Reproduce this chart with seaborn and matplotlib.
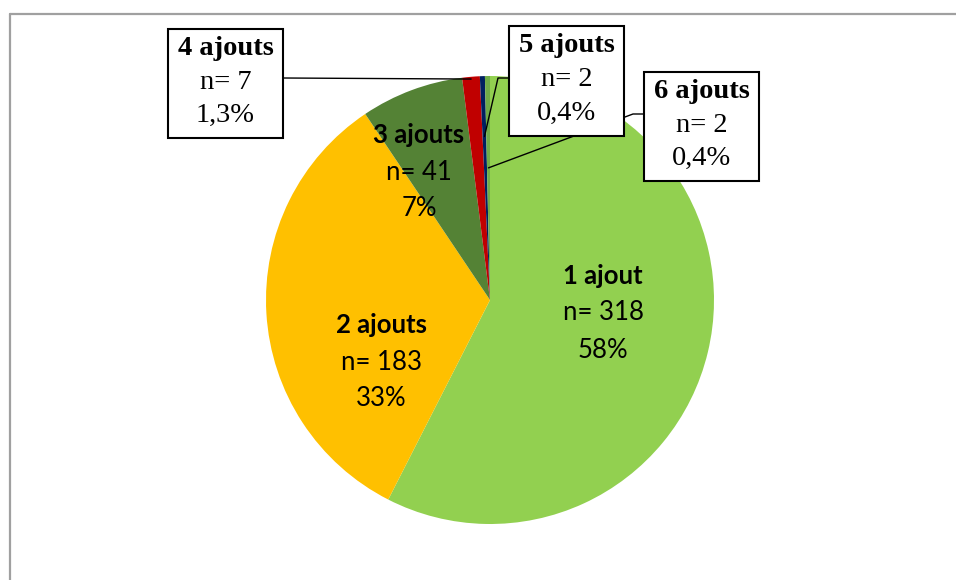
import matplotlib.pyplot as plt
import seaborn as sns
from matplotlib.patches import Rectangle
from matplotlib.lines import Line2D
import numpy as np

# data
categories = ['1 ajout', '2 ajouts', '3 ajouts', '4 ajouts', '5 ajouts', '6 ajouts']
counts = [318, 183, 41, 7, 2, 2]
pct_labels = ['58%', '33%', '7%', '1,3%', '0,4%', '0,4%']
colors = ['#92D050', '#FFC000', '#548235', '#C00000', '#002060', '#70AD47']

sns.set_theme(style='white')
plt.rcParams['font.family'] = ['Lato', 'DejaVu Sans']
plt.rcParams['text.color'] = 'black'

W, H = 956, 580
CX, CY, R = 490, 300, 224

fig = plt.figure(figsize=(W / 100, H / 100), dpi=100)
ax = fig.add_axes([0, 0, 1, 1])

wedges, _ = ax.pie(counts, colors=colors, startangle=90, counterclock=False,
                   wedgeprops=dict(linewidth=0))
ax.set_xlim(-CX / R, (W - CX) / R)
ax.set_ylim(-(H - CY) / R, CY / R)
ax.set_aspect('auto')
ax.axis('off')


def p2d(px, py):
    # image pixel -> data coords
    return (px - CX) / R, (CY - py) / R


# outer frame (gray, open at right/bottom)
fig.add_artist(Line2D([10 / W, 10 / W], [0, 1 - 14 / H], color='#A0A0A0', lw=1.6))
fig.add_artist(Line2D([10 / W, 1], [1 - 14 / H, 1 - 14 / H], color='#A0A0A0', lw=1.6))

# inner labels (Calibri-like)
inner_pos = {0: (603, 313), 1: (381, 362), 2: (419, 172)}
for i, (px, py) in inner_pos.items():
    x, y = p2d(px, py)
    ax.text(x, y + 37 / R, categories[i], ha='center', va='center',
            fontsize=18.5, fontweight='bold', color='black')
    ax.text(x, y, f'n= {counts[i]}', ha='center', va='center', fontsize=18.5, color='black')
    ax.text(x, y - 37 / R, pct_labels[i], ha='center', va='center', fontsize=18.5, color='black')

# boxed callouts (Times-like)
serif = ['Liberation Serif', 'DejaVu Serif']
boxes = {3: (168, 29, 283, 138), 4: (509, 26, 624, 136), 5: (644, 72, 759, 181)}
for i, (x0, y0, x1, y1) in boxes.items():
    bx0, by1 = p2d(x0, y1)
    bx1, by0 = p2d(x1, y0)
    ax.add_patch(Rectangle((bx0, by1), bx1 - bx0, by0 - by1, facecolor='white',
                           edgecolor='black', lw=1.5, zorder=3))
    xc = (bx0 + bx1) / 2
    ym = (by0 + by1) / 2
    ax.text(xc, ym + 35 / R, categories[i], ha='center', va='center', fontsize=20.5,
            fontweight='bold', family=serif, color='black', zorder=4)
    ax.text(xc, ym + 1 / R, f'n= {counts[i]}', ha='center', va='center', fontsize=20.5,
            family=serif, color='black', zorder=4)
    ax.text(xc, ym - 32 / R, pct_labels[i], ha='center', va='center', fontsize=20.5,
            family=serif, color='black', zorder=4)


def wedge_point(w, frac):
    ang = np.deg2rad((w.theta1 + w.theta2) / 2)
    return frac * w.r * np.cos(ang), frac * w.r * np.sin(ang)


# leader lines
tx, ty = wedge_point(wedges[3], 0.99)
sx, sy = p2d(283, 78)
ax.plot([sx, tx], [sy, ty], color='black', lw=1, zorder=2)

tx, ty = wedge_point(wedges[4], 0.73)
sx, sy = p2d(509, 78)
ex, ey = p2d(498, 78)
ax.plot([sx, ex, tx], [sy, ey, ty], color='black', lw=1, zorder=2)

tx, ty = wedge_point(wedges[5], 0.59)
sx, sy = p2d(644, 114)
ex, ey = p2d(633, 114)
ax.plot([sx, ex, tx], [sy, ey, ty], color='black', lw=1, zorder=2)

fig.savefig('out.png', dpi=100, facecolor='white')
